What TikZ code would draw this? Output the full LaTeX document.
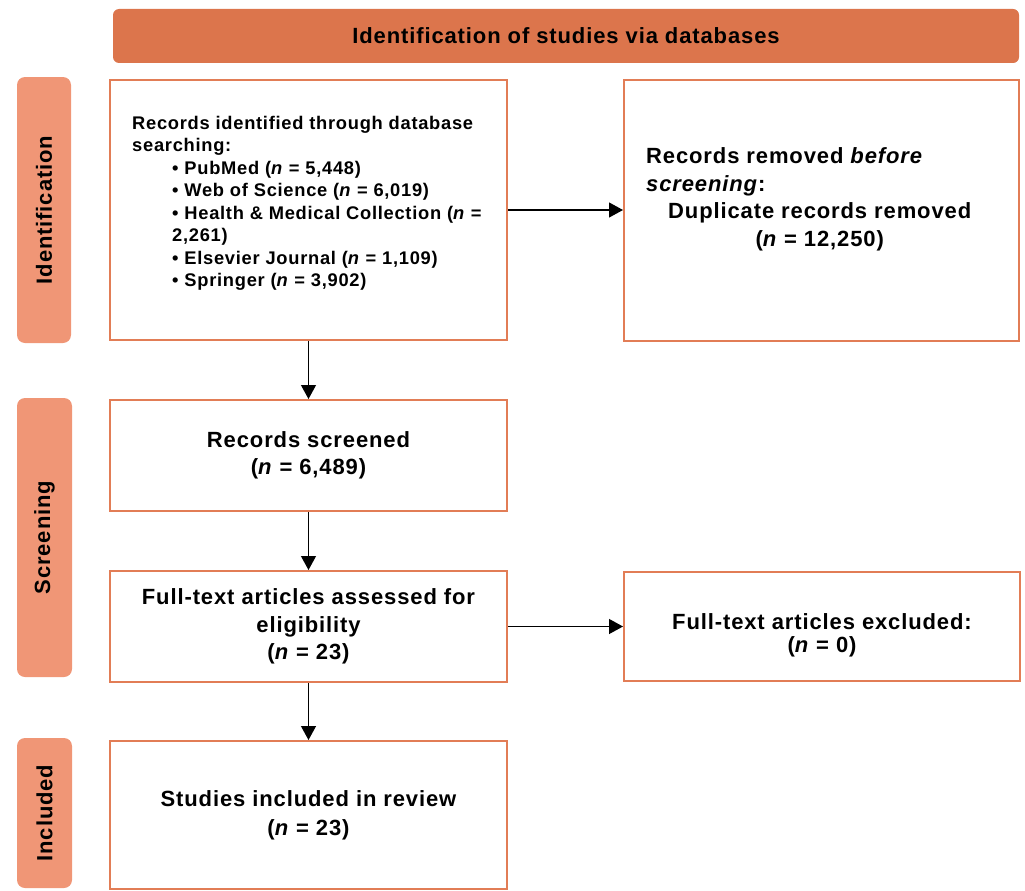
\documentclass[tikz,border=0pt]{standalone}
\usepackage{fontspec}
\setmainfont{Liberation Sans}[LetterSpace=4]
\usepackage{calc}
\usetikzlibrary{arrows.meta}
\definecolor{banner}{RGB}{220,117,76}
\definecolor{side}{RGB}{240,150,118}
\definecolor{edge}{RGB}{226,125,86}
\begin{document}
\begin{tikzpicture}[x=1pt,y=-1pt,
  box/.style={draw=edge, line width=2pt, fill=white, inner sep=0pt},
  txt/.style={font=\fontsize{22}{27.5}\selectfont\bfseries, align=center, inner sep=0pt},
  small/.style={font=\fontsize{18.3}{22.5}\selectfont\bfseries, align=left, inner sep=0pt},
  sidebox/.style={fill=side, rounded corners=8pt, inner sep=0pt},
  arr/.style={line width=1.2pt, -{Triangle[width=15pt,length=14pt]}}
]
\useasboundingbox (0,0) rectangle (1025,891);

% banner
\node[txt, fill=banner, rounded corners=6pt, minimum width=906pt, minimum height=54pt] (T) at (566,36) {Identification of studies via databases};

% side labels
\node[txt, sidebox, rotate=90, minimum width=266pt, minimum height=54pt] (S1) at (44,210) {Identification};
\node[txt, sidebox, rotate=90, minimum width=279pt, minimum height=55pt] (S2) at (44.5,537.5) {Screening};
\node[txt, sidebox, rotate=90, minimum width=150pt, minimum height=55pt] (S3) at (44.5,813) {Included};

% boxes
\node[box, minimum width=397pt, minimum height=260pt] (A) at (308.5,210) {};
\node[small, anchor=west] (At) at (132,203.5) {Records identified through database\\
searching:\\
\hspace*{40pt}\textbullet\ PubMed (\textit{n} = 5,448)\\
\hspace*{40pt}\textbullet\ Web of Science (\textit{n} = 6,019)\\
\hspace*{40pt}\textbullet\ Health \& Medical Collection (\textit{n} =\\
\hspace*{40pt}2,261)\\
\hspace*{40pt}\textbullet\ Elsevier Journal (\textit{n} = 1,109)\\
\hspace*{40pt}\textbullet\ Springer (\textit{n} = 3,902)};

\node[box, minimum width=395pt, minimum height=261pt] (B) at (821.5,210) {};
\node[txt, align=left, anchor=west] (Bt) at (646,199.5) {Records removed \textit{before}\\
\textit{screening}:\\
\hspace*{22pt}Duplicate records removed\\
\hspace*{22pt}\makebox[\widthof{Duplicate records removed}]{(\textit{n} = 12,250)}};

\node[box, txt, minimum width=397pt, minimum height=111pt] (C) at (308.5,455.5) {Records screened\\(\textit{n} = 6,489)};

\node[box, txt, minimum width=397pt, minimum height=111pt] (D) at (308.5,626.5) {Full-text articles assessed for\\eligibility\\(\textit{n} = 23)};

\node[box, minimum width=396pt, minimum height=109pt] (E) at (822,626.5) {};
\node[txt, font=\fontsize{22}{23}\selectfont\bfseries] (Et) at (822,635) {Full-text articles excluded:\\(\textit{n} = 0)};

\node[box, txt, font=\fontsize{22}{29}\selectfont\bfseries, minimum width=397pt, minimum height=148pt] (F) at (308.5,815) {Studies included in review\\(\textit{n} = 23)};

% connectors
\draw[arr] (A) -- (C);
\draw[arr] (C) -- (D);
\draw[arr] (D) -- (F);
\draw[arr] (A) -- (B);
\draw[arr] (D) -- (E);
\end{tikzpicture}
\end{document}
